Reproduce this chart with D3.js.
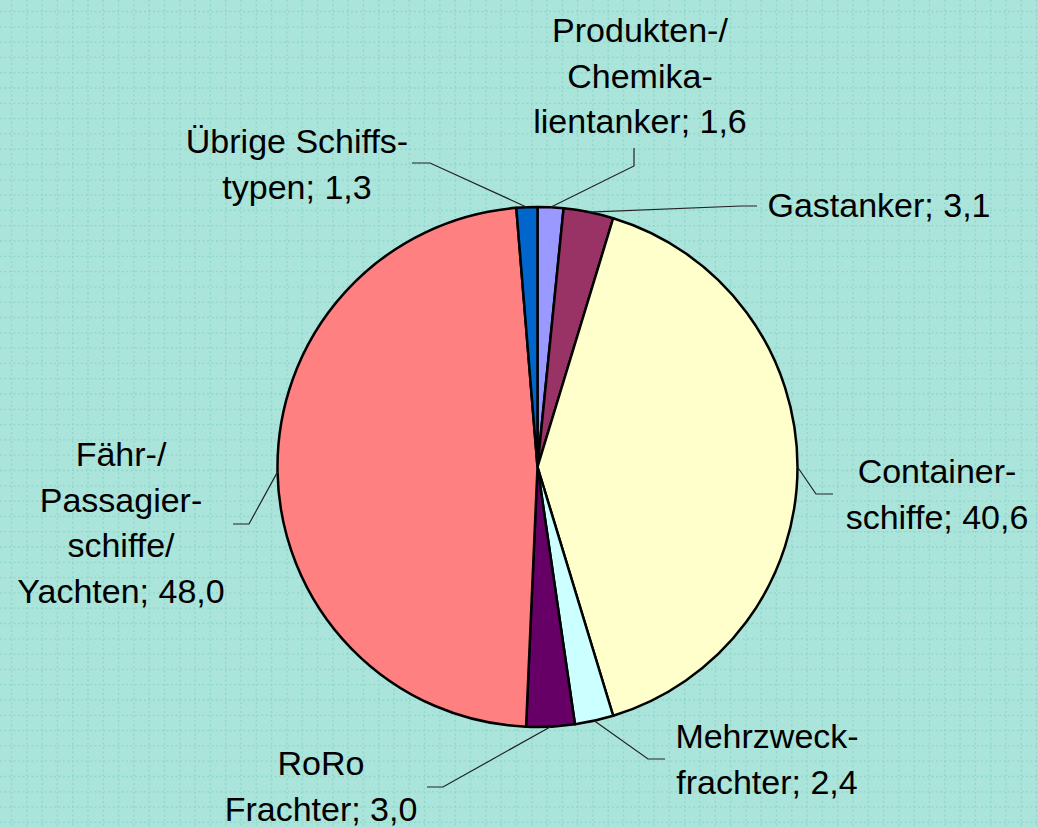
<!DOCTYPE html>
<html>
<head>
<meta charset="utf-8">
<script src="https://cdn.jsdelivr.net/npm/d3@7"></script>
<style>
  html, body { margin: 0; padding: 0; background: #aae4da; }
  svg { display: block; }
</style>
</head>
<body>
<svg id="chart"></svg>
<script>
const width = 1038;
const height = 828;

// data, clockwise from 12 o'clock
const categories = [
    "Produkten-/|Chemika-|lientanker",
    "Gastanker",
    "Container-|schiffe",
    "Mehrzweck-|frachter",
    "RoRo|Frachter",
    "Fähr-/|Passagier-|schiffe/|Yachten",
    "Übrige Schiffs-|typen"
];
const values = [1.6, 3.1, 40.6, 2.4, 3.0, 48.0, 1.3];
const colors = ["#9999ff", "#993366", "#ffffcc", "#ccffff", "#660066", "#ff8080", "#0066cc"];

// hand placed label layout (elbow, end of leader, text centre, first baseline)
const labelLayout = [
    { elbow: [634, 166], end: [634, 148], tx: 640, ty: 42 },
    { elbow: [741, 206], end: [757, 206], tx: 879, ty: 217 },
    { elbow: [816, 494], end: [833, 494], tx: 937, ty: 483 },
    { elbow: [648, 759], end: [665, 759], tx: 767, ty: 748 },
    { elbow: [443, 787], end: [427, 787], tx: 321, ty: 775 },
    { elbow: [249, 524], end: [233, 524], tx: 121, ty: 466 },
    { elbow: [430, 163], end: [412, 163], tx: 297, ty: 153 }
];

const svg = d3.select('#chart')
    .attr('width', width).attr('height', height);

// background grid
const grid = svg.append('g');
grid.append('rect').attr('width', width).attr('height', height).attr('fill', '#aae4da');
const step = 15.3;
const xs = d3.range(11.5, width, step);
const ys = d3.range(11.5, height, step);
grid.selectAll('.vline').data(xs).enter().append('line')
    .attr('x1', d => d).attr('x2', d => d).attr('y1', 0).attr('y2', height)
    .style('stroke', '#8fd8cc').style('stroke-width', 1.3).style('stroke-dasharray', '2,2.5');
grid.selectAll('.hline').data(ys).enter().append('line')
    .attr('y1', d => d).attr('y2', d => d).attr('x1', 0).attr('x2', width)
    .style('stroke', '#8fd8cc').style('stroke-width', 1.3).style('stroke-dasharray', '2,2.5');

const radius = 260;
const center = [537.5, 467];
const pie = d3.pie().sort(null).value(d => d);
const arc = d3.arc().innerRadius(0).outerRadius(radius);
const edge = d3.arc().innerRadius(radius).outerRadius(radius);
const arcs = pie(values);

const g = svg.append('g').attr('transform', `translate(${center[0]},${center[1]})`);
g.selectAll('.slice')
    .data(arcs)
    .enter().append('path')
    .attr('class', 'slice')
    .attr('d', arc)
    .style('fill', (d, i) => colors[i])
    .style('stroke', '#000')
    .style('stroke-width', 2.5)
    .style('stroke-linejoin', 'round');

// leader lines
const line = d3.line();
svg.selectAll('.leader')
    .data(arcs)
    .enter().append('path')
    .attr('class', 'leader')
    .attr('d', (d, i) => {
        const c = edge.centroid(d);
        const start = [c[0] + center[0], c[1] + center[1]];
        return line([start, labelLayout[i].elbow, labelLayout[i].end]);
    })
    .style('fill', 'none')
    .style('stroke', '#222')
    .style('stroke-width', 1.2);

// labels
const fmt = v => d3.format('.1f')(v).replace('.', ',');
const lineHeight = 45.5;
const labels = svg.selectAll('.label')
    .data(arcs)
    .enter().append('text')
    .attr('class', 'label')
    .attr('text-anchor', 'middle')
    .style('font-family', '"Liberation Sans", Arial, sans-serif')
    .style('font-size', '34px')
    .style('fill', '#000');

labels.each(function (d, i) {
    const parts = categories[i].split('|');
    parts[parts.length - 1] += '; ' + fmt(values[i]);
    d3.select(this).selectAll('tspan')
        .data(parts)
        .enter().append('tspan')
        .attr('x', labelLayout[i].tx)
        .attr('y', (p, j) => labelLayout[i].ty + j * lineHeight)
        .text(p => p);
});
</script>
</body>
</html>
